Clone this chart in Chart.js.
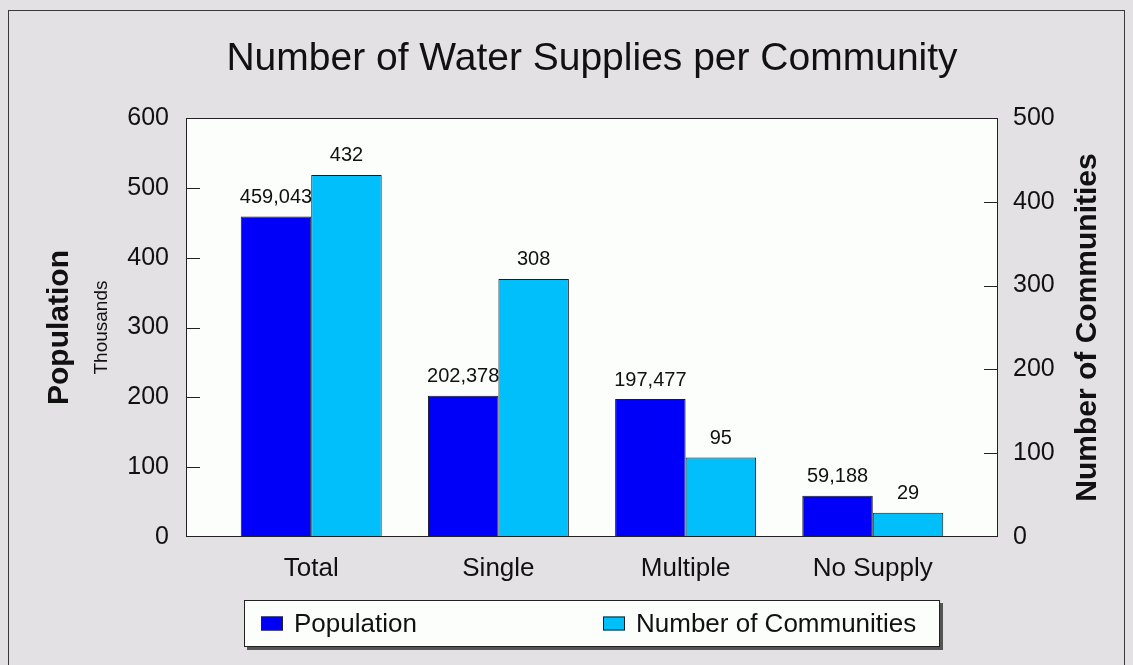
<!DOCTYPE html>
<html>
<head>
<meta charset="utf-8">
<title>Number of Water Supplies per Community</title>
<script src="https://cdn.jsdelivr.net/npm/chart.js@4.4.1/dist/chart.umd.min.js"></script>
<style>
  html, body { margin: 0; padding: 0; background: #e3e1e4; }
  #wrap { width: 1133px; height: 665px; }
</style>
</head>
<body>
<div id="wrap"><canvas id="chart" width="1133" height="665"></canvas></div>
<script>
// ── Données
const categories  = ['Total', 'Single', 'Multiple', 'No Supply'];
const population  = [459043, 202378, 197477, 59188];   // personnes
const communities = [432, 308, 95, 29];
const seriesNames = ['Population', 'Number of Communities'];

// ── Style
const FONT     = '"Liberation Sans", Arial, Helvetica, sans-serif';
const BG       = '#e3e1e4';
const PLOT_BG  = '#fcfefc';
const BLUE     = '#0000fa';
const CYAN     = '#00bffa';
const INK      = '#111';

// ── Fond, cadre du graphique, petites graduations internes, étiquettes, légende
const decor = {
  id: 'decor',
  beforeDraw(chart) {
    const { ctx, chartArea: a } = chart;
    ctx.save();
    ctx.fillStyle = BG;
    ctx.fillRect(0, 0, chart.width, chart.height);
    ctx.strokeStyle = '#3a3a3a';
    ctx.lineWidth = 1;
    ctx.strokeRect(8.5, 10.5, chart.width - 17, chart.height + 20);
    ctx.fillStyle = PLOT_BG;
    ctx.fillRect(a.left, a.top, a.right - a.left, a.bottom - a.top);
    ctx.restore();
  },
  afterDatasetsDraw(chart) {
    const { ctx, chartArea: a, scales } = chart;
    ctx.save();
    ctx.strokeStyle = '#222';
    ctx.lineWidth = 1;
    ctx.strokeRect(a.left + 0.5, a.top + 0.5, a.right - a.left - 1, a.bottom - a.top - 1);

    // graduations vers l'intérieur
    ctx.beginPath();
    scales.y.ticks.forEach(t => {
      if (t.value <= scales.y.min || t.value >= scales.y.max) return;
      const py = Math.round(scales.y.getPixelForValue(t.value)) + 0.5;
      ctx.moveTo(a.left, py); ctx.lineTo(a.left + 14, py);
    });
    scales.y1.ticks.forEach(t => {
      if (t.value <= scales.y1.min || t.value >= scales.y1.max) return;
      const py = Math.round(scales.y1.getPixelForValue(t.value)) + 0.5;
      ctx.moveTo(a.right - 14, py); ctx.lineTo(a.right, py);
    });
    ctx.stroke();

    // valeurs au-dessus des barres
    ctx.fillStyle = INK;
    ctx.font = '20px ' + FONT;
    ctx.textAlign = 'center';
    ctx.textBaseline = 'middle';
    const raw = [population, communities];
    chart.data.datasets.forEach((ds, di) => {
      chart.getDatasetMeta(di).data.forEach((bar, i) => {
        ctx.fillText(raw[di][i].toLocaleString('en-US'), bar.x, bar.y - 19);
      });
    });
    ctx.restore();
  },
  afterDraw(chart) {
    const { ctx, chartArea: a } = chart;
    ctx.save();
    ctx.fillStyle = INK;
    ctx.textBaseline = 'middle';
    ctx.textAlign = 'center';

    // titre de l'axe droit (lu de bas en haut) et « Thousands »
    const cy = (a.top + a.bottom) / 2;
    ctx.save();
    ctx.translate(1088, cy); ctx.rotate(-Math.PI / 2);
    ctx.font = 'bold 30px ' + FONT;
    ctx.fillText('Number of Communities', 0, 0);
    ctx.restore();
    ctx.save();
    ctx.translate(102, cy); ctx.rotate(-Math.PI / 2);
    ctx.font = '19px ' + FONT;
    ctx.fillText('Thousands', 0, 0);
    ctx.restore();

    // légende encadrée avec ombre
    const bx = 244, by = 600, bw = 696, bh = 47;
    ctx.fillStyle = '#555';
    ctx.fillRect(bx + 3, by + 3, bw, bh);
    ctx.fillStyle = PLOT_BG;
    ctx.fillRect(bx, by, bw, bh);
    ctx.strokeStyle = '#222';
    ctx.strokeRect(bx + 0.5, by + 0.5, bw - 1, bh - 1);
    const itemX = [261, 603];
    ctx.font = '26px ' + FONT;
    ctx.textAlign = 'left';
    chart.data.datasets.forEach((ds, i) => {
      const x = itemX[i], y = by + bh / 2;
      ctx.fillStyle = ds.backgroundColor;
      ctx.fillRect(x, y - 7, 22, 14);
      ctx.strokeStyle = '#222';
      ctx.strokeRect(x + 0.5, y - 6.5, 21, 13);
      ctx.fillStyle = INK;
      ctx.fillText(ds.label, x + 33, y + 1);
    });
    ctx.restore();
  }
};

new Chart(document.getElementById('chart'), {
  type: 'bar',
  data: {
    datasets: [
      {
        label: seriesNames[0],
        data: population.map((v, i) => ({ x: i, y: v / 1000 })),
        yAxisID: 'y',
        backgroundColor: BLUE, borderColor: '#1a1a1a', borderWidth: 1,
        categoryPercentage: 0.753, barPercentage: 1
      },
      {
        label: seriesNames[1],
        data: communities.map((v, i) => ({ x: i, y: v })),
        yAxisID: 'y1',
        backgroundColor: CYAN, borderColor: '#1a1a1a', borderWidth: 1,
        categoryPercentage: 0.753, barPercentage: 1
      }
    ]
  },
  options: {
    responsive: false,
    animation: false,
    layout: { padding: 0 },
    plugins: {
      legend: { display: false },
      tooltip: { enabled: false },
      title: {
        display: true,
        fullSize: false,   // centré sur la zone de tracé, comme l'original
        text: 'Number of Water Supplies per Community',
        color: INK,
        font: { family: FONT, size: 39, weight: 'normal', lineHeight: 1.2 },
        padding: { top: 35.6, bottom: 35.6 }
      }
    },
    scales: {
      x: {
        type: 'linear',
        offset: false,
        min: -0.669, max: 3.669,
        afterBuildTicks: s => { s.ticks = categories.map((c, i) => ({ value: i })); },
        afterFit: s => { s.height = 128; },
        grid: { display: false, drawTicks: false },
        border: { display: false },
        ticks: {
          color: INK, padding: 16, maxRotation: 0, autoSkip: false,
          font: { family: FONT, size: 26 },
          callback: v => categories[v]
        }
      },
      y: {
        position: 'left',
        min: 0, max: 600,
        afterFit: s => { s.width = 186; },
        grid: { display: false, drawTicks: false },
        border: { display: false },
        ticks: { stepSize: 100, color: INK, padding: 17, font: { family: FONT, size: 25 } },
        title: {
          display: true, text: 'Population', color: INK,
          font: { family: FONT, size: 30, weight: 'bold', lineHeight: 1.2 },
          padding: { top: 42, bottom: 0 }
        }
      },
      y1: {
        position: 'right',
        min: 0, max: 500,
        afterFit: s => { s.width = 135; },
        grid: { display: false, drawTicks: false },
        border: { display: false },
        ticks: { stepSize: 100, color: INK, padding: 15, font: { family: FONT, size: 25 } }
      }
    }
  },
  plugins: [decor]
});
</script>
</body>
</html>
